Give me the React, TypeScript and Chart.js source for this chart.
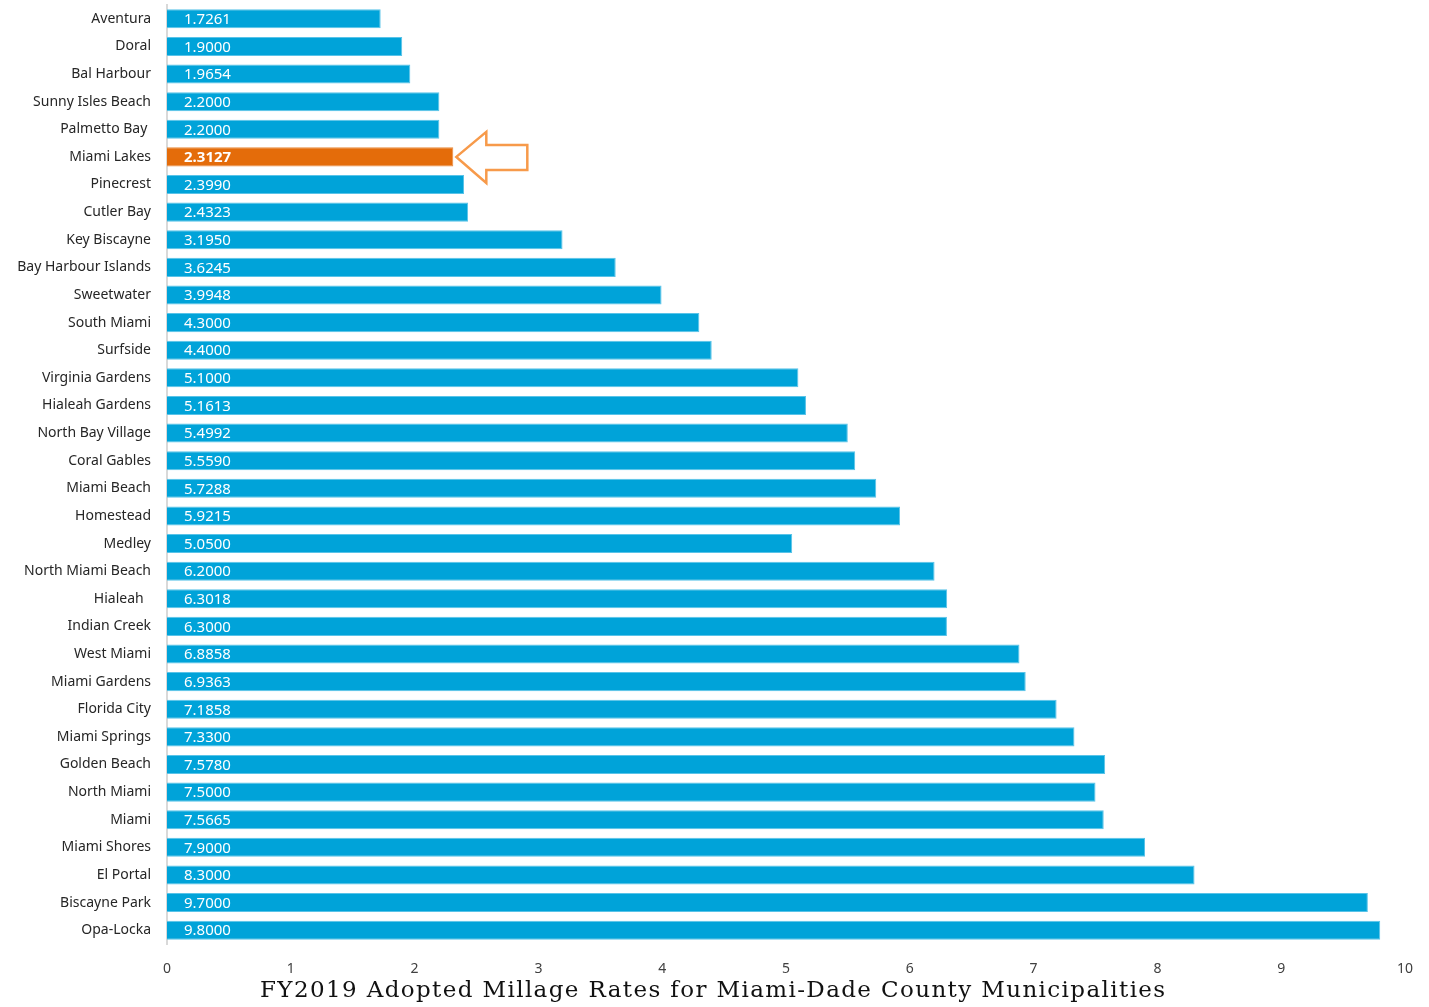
import React, { useEffect, useRef } from "react";
import { Chart, registerables } from "chart.js";

Chart.register(...registerables);

const municipalities = [
  "Aventura", "Doral", "Bal Harbour", "Sunny Isles Beach", "Palmetto Bay ", "Miami Lakes",
  "Pinecrest", "Cutler Bay", "Key Biscayne", "Bay Harbour Islands", "Sweetwater", "South Miami",
  "Surfside", "Virginia Gardens", "Hialeah Gardens", "North Bay Village", "Coral Gables",
  "Miami Beach", "Homestead", "Medley", "North Miami Beach", "Hialeah  ", "Indian Creek",
  "West Miami", "Miami Gardens", "Florida City", "Miami Springs", "Golden Beach", "North Miami",
  "Miami", "Miami Shores", "El Portal", "Biscayne Park", "Opa-Locka",
];

const millageRates = [
  1.7261, 1.9, 1.9654, 2.2, 2.2, 2.3127, 2.399, 2.4323, 3.195, 3.6245, 3.9948, 4.3, 4.4, 5.1,
  5.1613, 5.4992, 5.559, 5.7288, 5.9215, 5.05, 6.2, 6.3018, 6.3, 6.8858, 6.9363, 7.1858, 7.33,
  7.578, 7.5, 7.5665, 7.9, 8.3, 9.7, 9.8,
];

const xTicks = [0, 1, 2, 3, 4, 5, 6, 7, 8, 9, 10];
const highlighted = "Miami Lakes";
const titleText = "FY2019 Adopted Millage Rates for Miami-Dade County Municipalities";

const BLUE = "#00A3D9";
const ORANGE = "#E46C0A";

const valueLabelPlugin = {
  id: "valueLabels",
  afterDatasetsDraw(chart: any) {
    const ctx = chart.ctx;
    const meta = chart.getDatasetMeta(0);
    ctx.save();
    ctx.textBaseline = "middle";
    ctx.textAlign = "left";
    meta.data.forEach((bar: any, i: number) => {
      const isHi = municipalities[i] === highlighted;
      ctx.font = (isHi ? "bold " : "") + "15px 'Noto Sans'";
      ctx.fillStyle = "#ffffff";
      ctx.fillText(millageRates[i].toFixed(4), bar.base + 17, bar.y + 1);
    });
    ctx.restore();
  },
};

const arrowPlugin = {
  id: "arrow",
  afterDatasetsDraw(chart: any) {
    const idx = municipalities.indexOf(highlighted);
    const bar = chart.getDatasetMeta(0).data[idx];
    if (!bar) return;
    const ctx = chart.ctx;
    const tipX = bar.x + 3;
    const cy = bar.y;
    const headX = tipX + 30;
    const endX = tipX + 71;
    ctx.save();
    ctx.strokeStyle = "#F79A4A";
    ctx.lineWidth = 2.5;
    ctx.lineJoin = "miter";
    ctx.beginPath();
    ctx.moveTo(tipX, cy);
    ctx.lineTo(headX, cy - 25);
    ctx.lineTo(headX, cy - 12);
    ctx.lineTo(endX, cy - 12);
    ctx.lineTo(endX, cy + 13);
    ctx.lineTo(headX, cy + 13);
    ctx.lineTo(headX, cy + 26);
    ctx.closePath();
    ctx.stroke();
    ctx.restore();
  },
};

const bottomTitlePlugin = {
  id: "bottomTitle",
  afterDraw(chart: any) {
    const ctx = chart.ctx;
    ctx.save();
    ctx.font = "23px 'DejaVu Serif'";
    ctx.fillStyle = "#111111";
    ctx.textBaseline = "middle";
    ctx.textAlign = "left";
    const targetW = 905;
    const raw = ctx.measureText(titleText).width;
    const spacing = (targetW - raw) / (titleText.length - 1);
    (ctx as any).letterSpacing = spacing.toFixed(2) + "px";
    ctx.fillText(titleText, 260, 991);
    ctx.restore();
  },
};

export default function App() {
  const ref = useRef<HTMLCanvasElement>(null);

  useEffect(() => {
    if (!ref.current) return;
    const colors = municipalities.map((m) => (m === highlighted ? ORANGE : BLUE));
    const borders = municipalities.map((m) => (m === highlighted ? "#E98A3C" : "#59C3E8"));
    const chart = new Chart(ref.current, {
      type: "bar",
      data: {
        labels: municipalities,
        datasets: [
          {
            data: millageRates,
            backgroundColor: colors,
            borderColor: borders,
            borderWidth: 1,
            barPercentage: 0.69,
            categoryPercentage: 1,
          },
        ],
      },
      options: {
        indexAxis: "y",
        animation: false,
        responsive: false,
        maintainAspectRatio: false,
        layout: { padding: { top: 5, right: 24, left: 0, bottom: 0 } },
        plugins: {
          legend: { display: false },
          tooltip: { enabled: false },
          title: { display: false },
        },
        scales: {
          x: {
            min: 0,
            max: 10,
            afterBuildTicks: (scale: any) => {
              scale.ticks = xTicks.map((v) => ({ value: v }));
            },
            afterFit: (scale: any) => {
              scale.height = 63;
            },
            grid: { display: false },
            border: { display: false },
            ticks: {
              padding: 9,
              color: "#404040",
              font: { family: "'Noto Sans'", size: 14 },
            },
          },
          y: {
            afterFit: (scale: any) => {
              scale.width = 167;
              scale.paddingTop = 0;
              scale.paddingBottom = 0;
            },
            grid: { display: false, drawTicks: false },
            border: { display: true, color: "#D9D9D9", width: 2 },
            ticks: {
              padding: 16,
              color: "#262626",
              font: { family: "'Noto Sans'", size: 14 },
            },
          },
        },
      },
      plugins: [valueLabelPlugin, arrowPlugin, bottomTitlePlugin],
    });
    return () => chart.destroy();
  }, []);

  return (
    <div style={{ position: "fixed", left: 0, top: 0, width: 1429, height: 1007, background: "#fff" }}>
      <canvas ref={ref} width={1429} height={1007} style={{ display: "block" }} />
    </div>
  );
}
